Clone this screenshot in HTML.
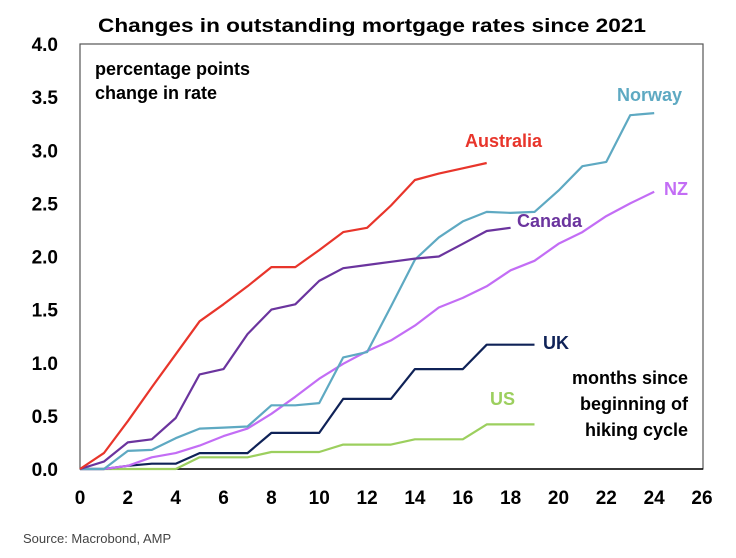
<!DOCTYPE html>
<html><head><meta charset="utf-8"><style>
body{margin:0;background:#fff;}
svg{display:block;font-family:"Liberation Sans",Arial,sans-serif;}
</style></head><body>
<svg id="chart" width="736" height="558" viewBox="0 0 736 558">
<text x="372" y="32" text-anchor="middle" font-size="19" font-weight="bold" textLength="548" lengthAdjust="spacingAndGlyphs">Changes in outstanding mortgage rates since 2021</text>
<rect x="80" y="44" width="623" height="425" fill="none" stroke="#555" stroke-width="1.2"/>
<line x1="80" y1="469" x2="703" y2="469" stroke="#000" stroke-width="1.5"/>
<g id="yticks"></g><g id="xticks"></g><g id="series"></g>
<text font-size="18" font-weight="bold" fill="#000"><tspan x="95" y="75">percentage points</tspan><tspan x="95" y="99">change in rate</tspan></text>
<text font-size="18" font-weight="bold" fill="#000" text-anchor="end"><tspan x="688" y="384">months since</tspan><tspan x="688" y="410">beginning of</tspan><tspan x="688" y="436">hiking cycle</tspan></text>
<text x="617" y="101" font-size="18" font-weight="bold" fill="#5ea9c2">Norway</text>
<text x="465" y="147" font-size="18" font-weight="bold" fill="#e8352b">Australia</text>
<text x="664" y="195" font-size="18" font-weight="bold" fill="#c36df5">NZ</text>
<text x="517" y="227" font-size="18" font-weight="bold" fill="#6b349e">Canada</text>
<text x="543" y="349" font-size="18" font-weight="bold" fill="#0f2257">UK</text>
<text x="490" y="405" font-size="18" font-weight="bold" fill="#9ccf5e">US</text>
<text x="23" y="543" font-size="13" fill="#444">Source: Macrobond, AMP</text>
</svg>
<script>
const yTicks=["0.0","0.5","1.0","1.5","2.0","2.5","3.0","3.5","4.0"];
const xTicks=[0,2,4,6,8,10,12,14,16,18,20,22,24,26];
const australia=[0,0.15,0.45,0.77,1.08,1.39,1.55,1.72,1.9,1.9,2.06,2.23,2.27,2.48,2.72,2.78,2.83,2.88];
const canada=[0,0.07,0.25,0.28,0.48,0.89,0.94,1.27,1.5,1.55,1.77,1.89,1.92,1.95,1.98,2.0,2.12,2.24,2.27];
const norway=[0,0,0.17,0.18,0.29,0.38,0.39,0.4,0.6,0.6,0.62,1.05,1.1,1.53,1.97,2.18,2.33,2.42,2.41,2.42,2.62,2.85,2.89,3.33,3.35];
const nz=[0,0,0.03,0.11,0.15,0.22,0.31,0.38,0.52,0.68,0.85,0.99,1.11,1.21,1.35,1.52,1.61,1.72,1.87,1.96,2.12,2.23,2.38,2.5,2.61];
const uk=[0,0,0.03,0.05,0.05,0.15,0.15,0.15,0.34,0.34,0.34,0.66,0.66,0.66,0.94,0.94,0.94,1.17,1.17,1.17];
const us=[0,0,0,0,0,0.11,0.11,0.11,0.16,0.16,0.16,0.23,0.23,0.23,0.28,0.28,0.28,0.42,0.42,0.42];
const NS="http://www.w3.org/2000/svg";
const xs=v=>80+v*(622/26);
const ys=v=>469-v*106.25;
const yg=document.getElementById('yticks');
yTicks.forEach(t=>{const e=document.createElementNS(NS,'text');


e.setAttribute('x',58);e.setAttribute('y',ys(parseFloat(t))+7);e.setAttribute('text-anchor','end');
e.setAttribute('font-size','19');e.setAttribute('font-weight','bold');e.textContent=t;yg.appendChild(e);});
const xg=document.getElementById('xticks');
xTicks.forEach(t=>{const e=document.createElementNS(NS,'text');


e.setAttribute('x',xs(t));e.setAttribute('y',504);e.setAttribute('text-anchor','middle');
e.setAttribute('font-size','19');e.setAttribute('font-weight','bold');e.textContent=t;xg.appendChild(e);});
const sg=document.getElementById('series');
[[us,'#9ccf5e','line-us'],[uk,'#0f2257','line-uk'],[nz,'#c36df5','line-nz'],[norway,'#5ea9c2','line-norway'],[canada,'#6b349e','line-canada'],[australia,'#e8352b','line-australia']].forEach(([d,c,n])=>{
const p=document.createElementNS(NS,'polyline');


p.setAttribute('points',d.map((v,i)=>xs(i).toFixed(1)+','+ys(v).toFixed(1)).join(' '));
p.setAttribute('fill','none');p.setAttribute('stroke',c);p.setAttribute('stroke-width','2.2');p.setAttribute('stroke-linejoin','round');
sg.appendChild(p);});
</script>
</body></html>
